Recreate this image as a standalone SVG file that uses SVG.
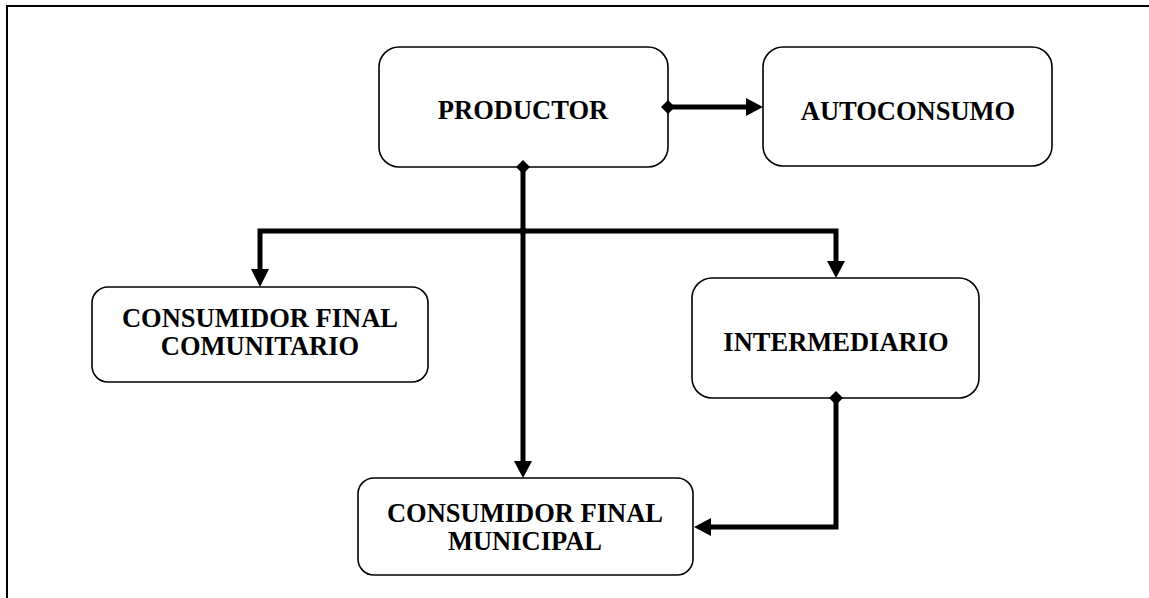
<svg xmlns="http://www.w3.org/2000/svg" width="1149" height="598" viewBox="0 0 1149 598">
<style>
.box{fill:#fff;stroke:#000;stroke-width:1.6}
.lbl{font-family:"Liberation Serif","Times New Roman",serif;font-weight:bold;font-size:26.5px;fill:#000;text-anchor:middle}
.ln{fill:none;stroke:#000;stroke-width:5;stroke-linejoin:miter}
.hd{fill:#000}
</style>
<rect x="0" y="0" width="1149" height="598" fill="#fff"/>
<path d="M7,598 V6 H1149" fill="none" stroke="#000" stroke-width="2"/>
<g id="productor">
<rect class="box" x="379" y="47" width="289" height="120" rx="20" ry="20"/>
<text class="lbl" x="523" y="119">PRODUCTOR</text>
</g>
<g id="autoconsumo">
<rect class="box" x="763" y="47" width="289" height="119" rx="20" ry="20"/>
<text class="lbl" x="908" y="120">AUTOCONSUMO</text>
</g>
<g id="consumidor-comunitario">
<rect class="box" x="92" y="287" width="336" height="95" rx="16" ry="16"/>
<text class="lbl" x="260" y="327">CONSUMIDOR FINAL</text>
<text class="lbl" x="260" y="355">COMUNITARIO</text>
</g>
<g id="intermediario">
<rect class="box" x="692" y="278" width="287" height="120" rx="20" ry="20"/>
<text class="lbl" x="836" y="351">INTERMEDIARIO</text>
</g>
<g id="consumidor-municipal">
<rect class="box" x="358" y="478" width="335" height="97" rx="16" ry="16"/>
<text class="lbl" x="525" y="522">CONSUMIDOR FINAL</text>
<text class="lbl" x="525" y="550">MUNICIPAL</text>
</g>
<g id="connectors">
<path class="ln" d="M668,107 H747"/>
<polygon class="hd" points="746,98 763,107 746,116"/>
<path class="ln" d="M523,167 V231"/>
<path class="ln" d="M260,270 V231 H836 V262"/>
<polygon class="hd" points="251,269 260,287 269,269"/>
<polygon class="hd" points="827,261 836,278 845,261"/>
<path class="ln" d="M523,231 V462"/>
<polygon class="hd" points="514,461 523,478 532,461"/>
<path class="ln" d="M836,398 V527 H710"/>
<polygon class="hd" points="711,518 694,527 711,536"/>
<polygon class="hd" points="668,100 675,107 668,114 661,107"/>
<polygon class="hd" points="523,160 530,167 523,174 516,167"/>
<polygon class="hd" points="523,226 528,231 523,236 518,231"/>
<polygon class="hd" points="836,391 843,398 836,405 829,398"/>
</g>
</svg>
